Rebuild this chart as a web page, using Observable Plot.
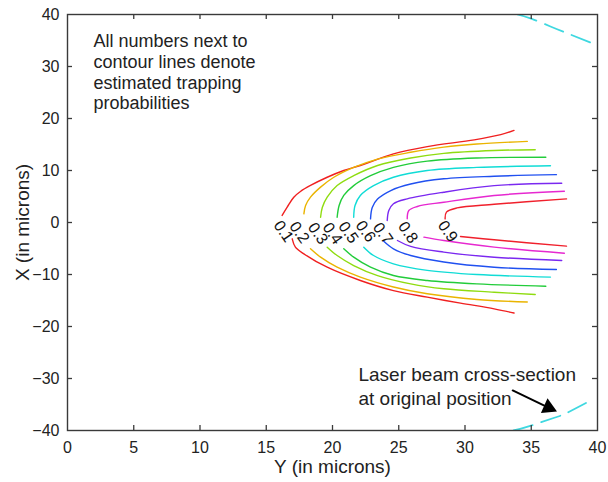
<!DOCTYPE html>
<html><head><meta charset="utf-8">
<script src="https://cdn.jsdelivr.net/npm/d3@7"></script>
<script src="https://cdn.jsdelivr.net/npm/@observablehq/plot@0.6"></script>
<style>body{margin:0;background:#fff}</style>
</head><body><div id="chart"></div>
<script>
// Contour levels (estimated trapping probabilities) and their colours
const levels = [0.1, 0.2, 0.3, 0.4, 0.5, 0.6, 0.7, 0.8, 0.9];
const levelColors = ["#f02020", "#eab400", "#8fdc10", "#22cc3a", "#10dcd6", "#2050f0", "#7a28f0", "#e628d0", "#f0202c"];

// Each contour: upper branch and lower branch, points [Y, X] in microns
const c1Upper = [[16.2,1.35],[16.58,2.94],[17.08,4.87],[17.58,5.96],[18.34,7.12],[19.6,8.7],[20.85,10.0],[22.1,10.96],[24.6,13.2],[27.15,14.6],[30.7,15.9],[32.7,16.9],[33.7,17.7]];
const c1Lower = [[16.96,-3.14],[17.2,-4.74],[17.84,-6.03],[19.6,-8.6],[22.1,-11.15],[24.6,-13.1],[27.15,-14.36],[29.66,-15.5],[32.2,-16.6],[33.7,-17.4]];
const c2Upper = [[17.84,1.67],[17.97,3.27],[18.34,4.87],[19.1,6.8],[20.1,8.7],[21.6,10.6],[23.4,12.2],[25.9,13.5],[28.4,14.5],[30.9,15.1],[34.7,15.6]];
const c2Lower = [[18.34,-5.06],[19.1,-6.67],[20.35,-8.6],[22.1,-10.5],[24.6,-12.4],[27.15,-13.7],[30.9,-14.8],[34.7,-15.3]];
const c3Upper = [[19.1,1.0],[19.23,2.9],[19.6,4.87],[20.35,7.1],[21.6,9.0],[23.4,10.96],[25.9,12.4],[28.4,13.3],[32.2,13.85],[35.3,14.0]];
const c3Lower = [[19.6,-4.74],[20.35,-6.35],[21.6,-8.27],[23.4,-10.2],[25.9,-11.8],[28.4,-12.75],[32.2,-13.4],[35.3,-13.85]];
const c4Upper = [[20.35,1.0],[20.5,3.27],[20.85,5.2],[21.6,7.1],[22.87,9.0],[24.6,10.6],[27.15,11.8],[30.9,12.4],[36.1,12.56]];
const c4Lower = [[20.85,-5.06],[21.6,-6.67],[22.87,-8.6],[24.6,-10.2],[27.15,-11.15],[30.9,-11.8],[36.1,-12.25]];
const c5Upper = [[21.6,1.0],[21.7,3.27],[22.1,5.2],[23.1,7.1],[24.6,8.7],[27.15,10.0],[30.9,10.6],[36.45,10.9]];
const c5Lower = [[22.36,-4.74],[23.1,-6.35],[24.6,-7.95],[27.15,-9.2],[30.9,-10.0],[36.45,-10.5]];
const c6Upper = [[22.87,0.7],[23.0,2.9],[23.4,4.5],[24.4,6.15],[25.9,7.4],[28.4,8.4],[32.2,8.9],[36.9,9.2]];
const c6Lower = [[23.87,-3.6],[24.6,-5.06],[25.9,-6.35],[28.4,-7.6],[32.2,-8.6],[36.9,-9.04]];
const c7Upper = [[24.13,0.38],[24.25,2.3],[24.6,3.6],[25.64,4.55],[28.4,5.83],[32.2,7.1],[37.3,7.56]];
const c7Lower = [[24.9,-3.46],[25.9,-4.6],[28.4,-5.7],[32.2,-6.67],[37.3,-7.3]];
const c8Upper = [[25.64,0.7],[25.76,2.3],[26.4,3.08],[28.4,3.9],[32.2,5.2],[37.5,6.0]];
const c8Lower = [[26.9,-2.82],[28.4,-3.46],[32.2,-4.74],[37.5,-5.9]];
const c9Upper = [[28.5,0.7],[28.6,2.0],[29.4,2.8],[32.2,3.5],[37.66,4.55]];
const c9Lower = [[29.66,-2.7],[32.2,-3.33],[37.66,-4.55]];

// Contour label positions
const labelY = [16.3, 17.5, 18.9, 20.0, 21.2, 22.5, 23.8, 25.7, 28.7];
const labelX = [-1.7, -1.9, -2.1, -2.1, -1.9, -1.7, -2.1, -1.9, -1.7];

// Laser beam cross-section (dashed arcs)
const beamTop = [[33.96,40],[35.0,39.2],[36.45,37.7],[37.7,36.4],[40.07,34.0]];
const beamBottom = [[33.66,-40],[34.8,-39.2],[36.8,-37.5],[37.7,-36.6],[39.5,-34.2]];

// Annotations
const noteTop = "All numbers next to\ncontour lines denote\nestimated trapping\nprobabilities";
const noteBeam = "Laser beam cross-section\nat original position";
const arrowFrom = [33.6, -32.3];
const arrowTo = [36.3, -35.6];

const xTicks = [0,5,10,15,20,25,30,35,40];
const yTicks = [-40,-30,-20,-10,0,10,20,30,40];

const contours = [
  [c1Upper,c1Lower],[c2Upper,c2Lower],[c3Upper,c3Lower],[c4Upper,c4Lower],[c5Upper,c5Lower],
  [c6Upper,c6Lower],[c7Upper,c7Lower],[c8Upper,c8Lower],[c9Upper,c9Lower]
];

const W = 608, H = 482, mL = 67, mR = 11, mT = 14, mB = 52;
const plotW = W - mL - mR, plotH = H - mT - mB, tick = 5;
const axisColor = "#3a3a3a";
const marks = [];
contours.forEach((pair, i) => {
  pair.forEach(branch => {
    marks.push(Plot.line(branch, {x: d => d[0], y: d => d[1], stroke: levelColors[i], strokeWidth: 1.4, curve: "catmull-rom"}));
  });
});
marks.push(Plot.text(levels, {
  x: (d, i) => labelY[i], y: (d, i) => labelX[i], text: d => d.toFixed(1),
  rotate: 55, fontSize: 16, fill: "#111"
}));
[beamTop, beamBottom].forEach(arc => {
  marks.push(Plot.line(arc, {x: d => d[0], y: d => d[1], stroke: "#3fd8e0", strokeWidth: 1.8, strokeDasharray: "20,9", curve: "natural", clip: true}));
});
marks.push(Plot.text([noteTop], {x: 1.96, y: 29.0, text: d => d, textAnchor: "start", lineAnchor: "middle", fontSize: 18, lineHeight: 1.15, fill: "#222"}));
marks.push(Plot.text([noteBeam], {x: 21.96, y: -31.25, text: d => d, textAnchor: "start", lineAnchor: "middle", fontSize: 19, lineHeight: 1.3, fill: "#222"}));
marks.push(Plot.arrow([[arrowFrom, arrowTo]], {x1: d => d[0][0], y1: d => d[0][1], x2: d => d[1][0], y2: d => d[1][1], stroke: "#000", strokeWidth: 2, headLength: 0}));
marks.push(Plot.dot([arrowTo], {x: d => d[0], y: d => d[1], symbol: "triangle", r: 6, fill: "#000", stroke: null, rotate: 114}));
// inward ticks on all four sides
marks.push(Plot.tickX(xTicks.slice(1, -1), {x: d => d, insetTop: plotH - tick, stroke: axisColor, strokeWidth: 1.3}));
marks.push(Plot.tickX(xTicks.slice(1, -1), {x: d => d, insetBottom: plotH - tick, stroke: axisColor, strokeWidth: 1.3}));
marks.push(Plot.tickY(yTicks.slice(1, -1), {y: d => d, insetRight: plotW - tick, stroke: axisColor, strokeWidth: 1.3}));
marks.push(Plot.tickY(yTicks.slice(1, -1), {y: d => d, insetLeft: plotW - tick, stroke: axisColor, strokeWidth: 1.3}));
marks.push(Plot.frame({stroke: axisColor, strokeWidth: 1.4}));
marks.push(Plot.axisX(xTicks, {anchor: "bottom", tickSize: 0, tickPadding: 11, label: null, fontSize: 16, color: "#222"}));
marks.push(Plot.axisY(yTicks, {anchor: "left", tickSize: 0, tickPadding: 8, label: null, fontSize: 16, color: "#222"}));
marks.push(Plot.text(["Y (in microns)"], {frameAnchor: "bottom", dy: 36, textAnchor: "middle", lineAnchor: "middle", fontSize: 19, fill: "#222"}));
marks.push(Plot.text(["X (in microns)"], {frameAnchor: "left", dx: -45, rotate: -90, textAnchor: "middle", lineAnchor: "middle", fontSize: 19, fill: "#222"}));

const chart = Plot.plot({
  width: W, height: H,
  marginLeft: mL, marginRight: mR, marginTop: mT, marginBottom: mB,
  style: {fontFamily: "'Liberation Sans', Arial, sans-serif", background: "#fff"},
  x: {domain: [0, 40]},
  y: {domain: [-40, 40]},
  marks
});
document.getElementById("chart").appendChild(chart);
</script>
</body></html>
